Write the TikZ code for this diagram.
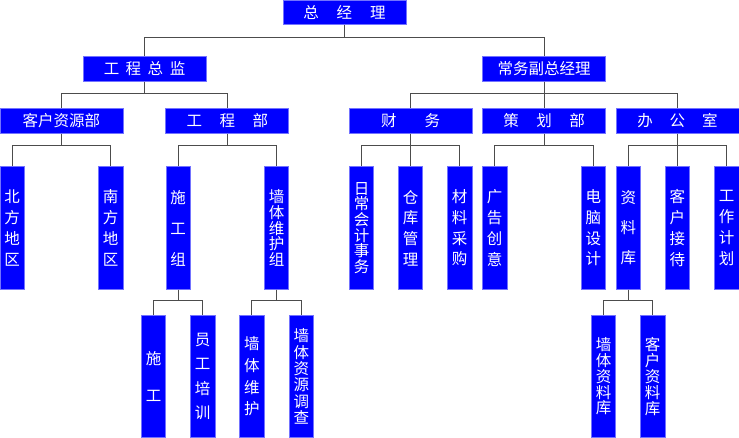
\documentclass[tikz,border=0pt]{standalone}
\usepackage{fontspec}
\newfontfamily\cjk{Noto Sans CJK SC}
\usepackage{tikz}

\begin{document}
\begin{tikzpicture}[x=1pt,y=-1pt]
	\tikzstyle{box}=[rectangle, fill=blue, draw=blue!55!white, line width=0.8pt, text=white, inner sep=0pt]
	\tikzstyle{head}=[box, minimum width=123pt, minimum height=24.5pt, font=\cjk\fontsize{15.5}{18}\selectfont]
	\tikzstyle{leaf}=[box, minimum width=24.5pt, minimum height=122.6pt, align=center, font=\cjk\fontsize{15.5}{#1}\selectfont]
	\tikzstyle{link}=[draw=black!70, line width=0.8pt]

	\useasboundingbox (0,0) rectangle (739,438);

	% top levels
	\node[head] (gm) at (344.5,12.2) {总\hspace{18pt}经\hspace{18pt}理};
	\node[head] (gczj) at (144.5,69) {工\hspace{6.5pt}程\hspace{6.5pt}总\hspace{6.5pt}监};
	\node[head] (cwfz) at (544.2,69) {常务副总经理};

	\node[head] (khzy) at (61.5,121) {客户资源部};
	\node[head] (gcb) at (227.3,121) {工\hspace{17.5pt}程\hspace{17.5pt}部};
	\node[head] (cw) at (410.7,121) {财\hspace{28pt}务};
	\node[head] (ch) at (544.2,121) {策\hspace{17.5pt}划\hspace{17.5pt}部};
	\node[head] (bgs) at (677.5,121) {办\hspace{17pt}公\hspace{17pt}室};

	% leaves
	\node[leaf=21] (bf) at (12.2,228) {北\\方\\地\\区};
	\node[leaf=21] (nf) at (110.7,228) {南\\方\\地\\区};
	\node[leaf=31] (sgz) at (178.2,228) {施\\工\\组};
	\node[leaf=15.8] (qtz) at (276.5,228) {墙\\体\\维\\护\\组};
	\node[leaf=15.7] (rc) at (361.5,228) {日\\常\\会\\计\\事\\务};
	\node[leaf=20.7] (ck) at (410.5,228) {仓\\库\\管\\理};
	\node[leaf=20.7] (cl) at (459.7,228) {材\\料\\采\\购};
	\node[leaf=20.7] (gg) at (494.7,228) {广\\告\\创\\意};
	\node[leaf=20.7] (dn) at (593.3,228) {电\\脑\\设\\计};
	\node[leaf=30] (zlk) at (628.3,228) {资\\料\\库};
	\node[leaf=20.7] (khjd) at (677.3,228) {客\\户\\接\\待};
	\node[leaf=20.7] (gzjh) at (726.7,228) {工\\作\\计\\划};

	\node[leaf=37.7] (sg) at (153.5,376.5) {施\\工};
	\node[leaf=24.3] (ygpx) at (202.7,376.5) {员\\工\\培\\训};
	\node[leaf=21.7] (qtwh) at (251.8,376.5) {墙\\体\\维\\护};
	\node[leaf=16.3] (qtdc) at (301.3,376.5) {墙\\体\\资\\源\\调\\查};
	\node[leaf=15.8] (qtzl) at (603.5,376.5) {墙\\体\\资\\料\\库};
	\node[leaf=15.8] (khzl) at (652.7,376.5) {客\\户\\资\\料\\库};

	% connectors
	\foreach \from/\to in {gm/gczj,gm/cwfz}
	\draw[link] (\from.south) -- ++(0,12.7) -| (\to.north);
	\foreach \from/\to in {gczj/khzy,gczj/gcb,cwfz/cw,cwfz/ch,cwfz/bgs}
	\draw[link] (\from.south) -- ++(0,11.3) -| (\to.north);
	\foreach \from/\to in {khzy/bf,khzy/nf,gcb/sgz,gcb/qtz,cw/rc,cw/ck,cw/cl,ch/gg,ch/dn,bgs/zlk,bgs/khjd,bgs/gzjh}
	\draw[link] (\from.south) -- ++(0,12) -| (\to.north);
	\foreach \from/\to in {sgz/sg,sgz/ygpx,qtz/qtwh,qtz/qtdc,zlk/qtzl,zlk/khzl}
	\draw[link] (\from.south) -- ++(0,10.4) -| (\to.north);
\end{tikzpicture}
\end{document}
